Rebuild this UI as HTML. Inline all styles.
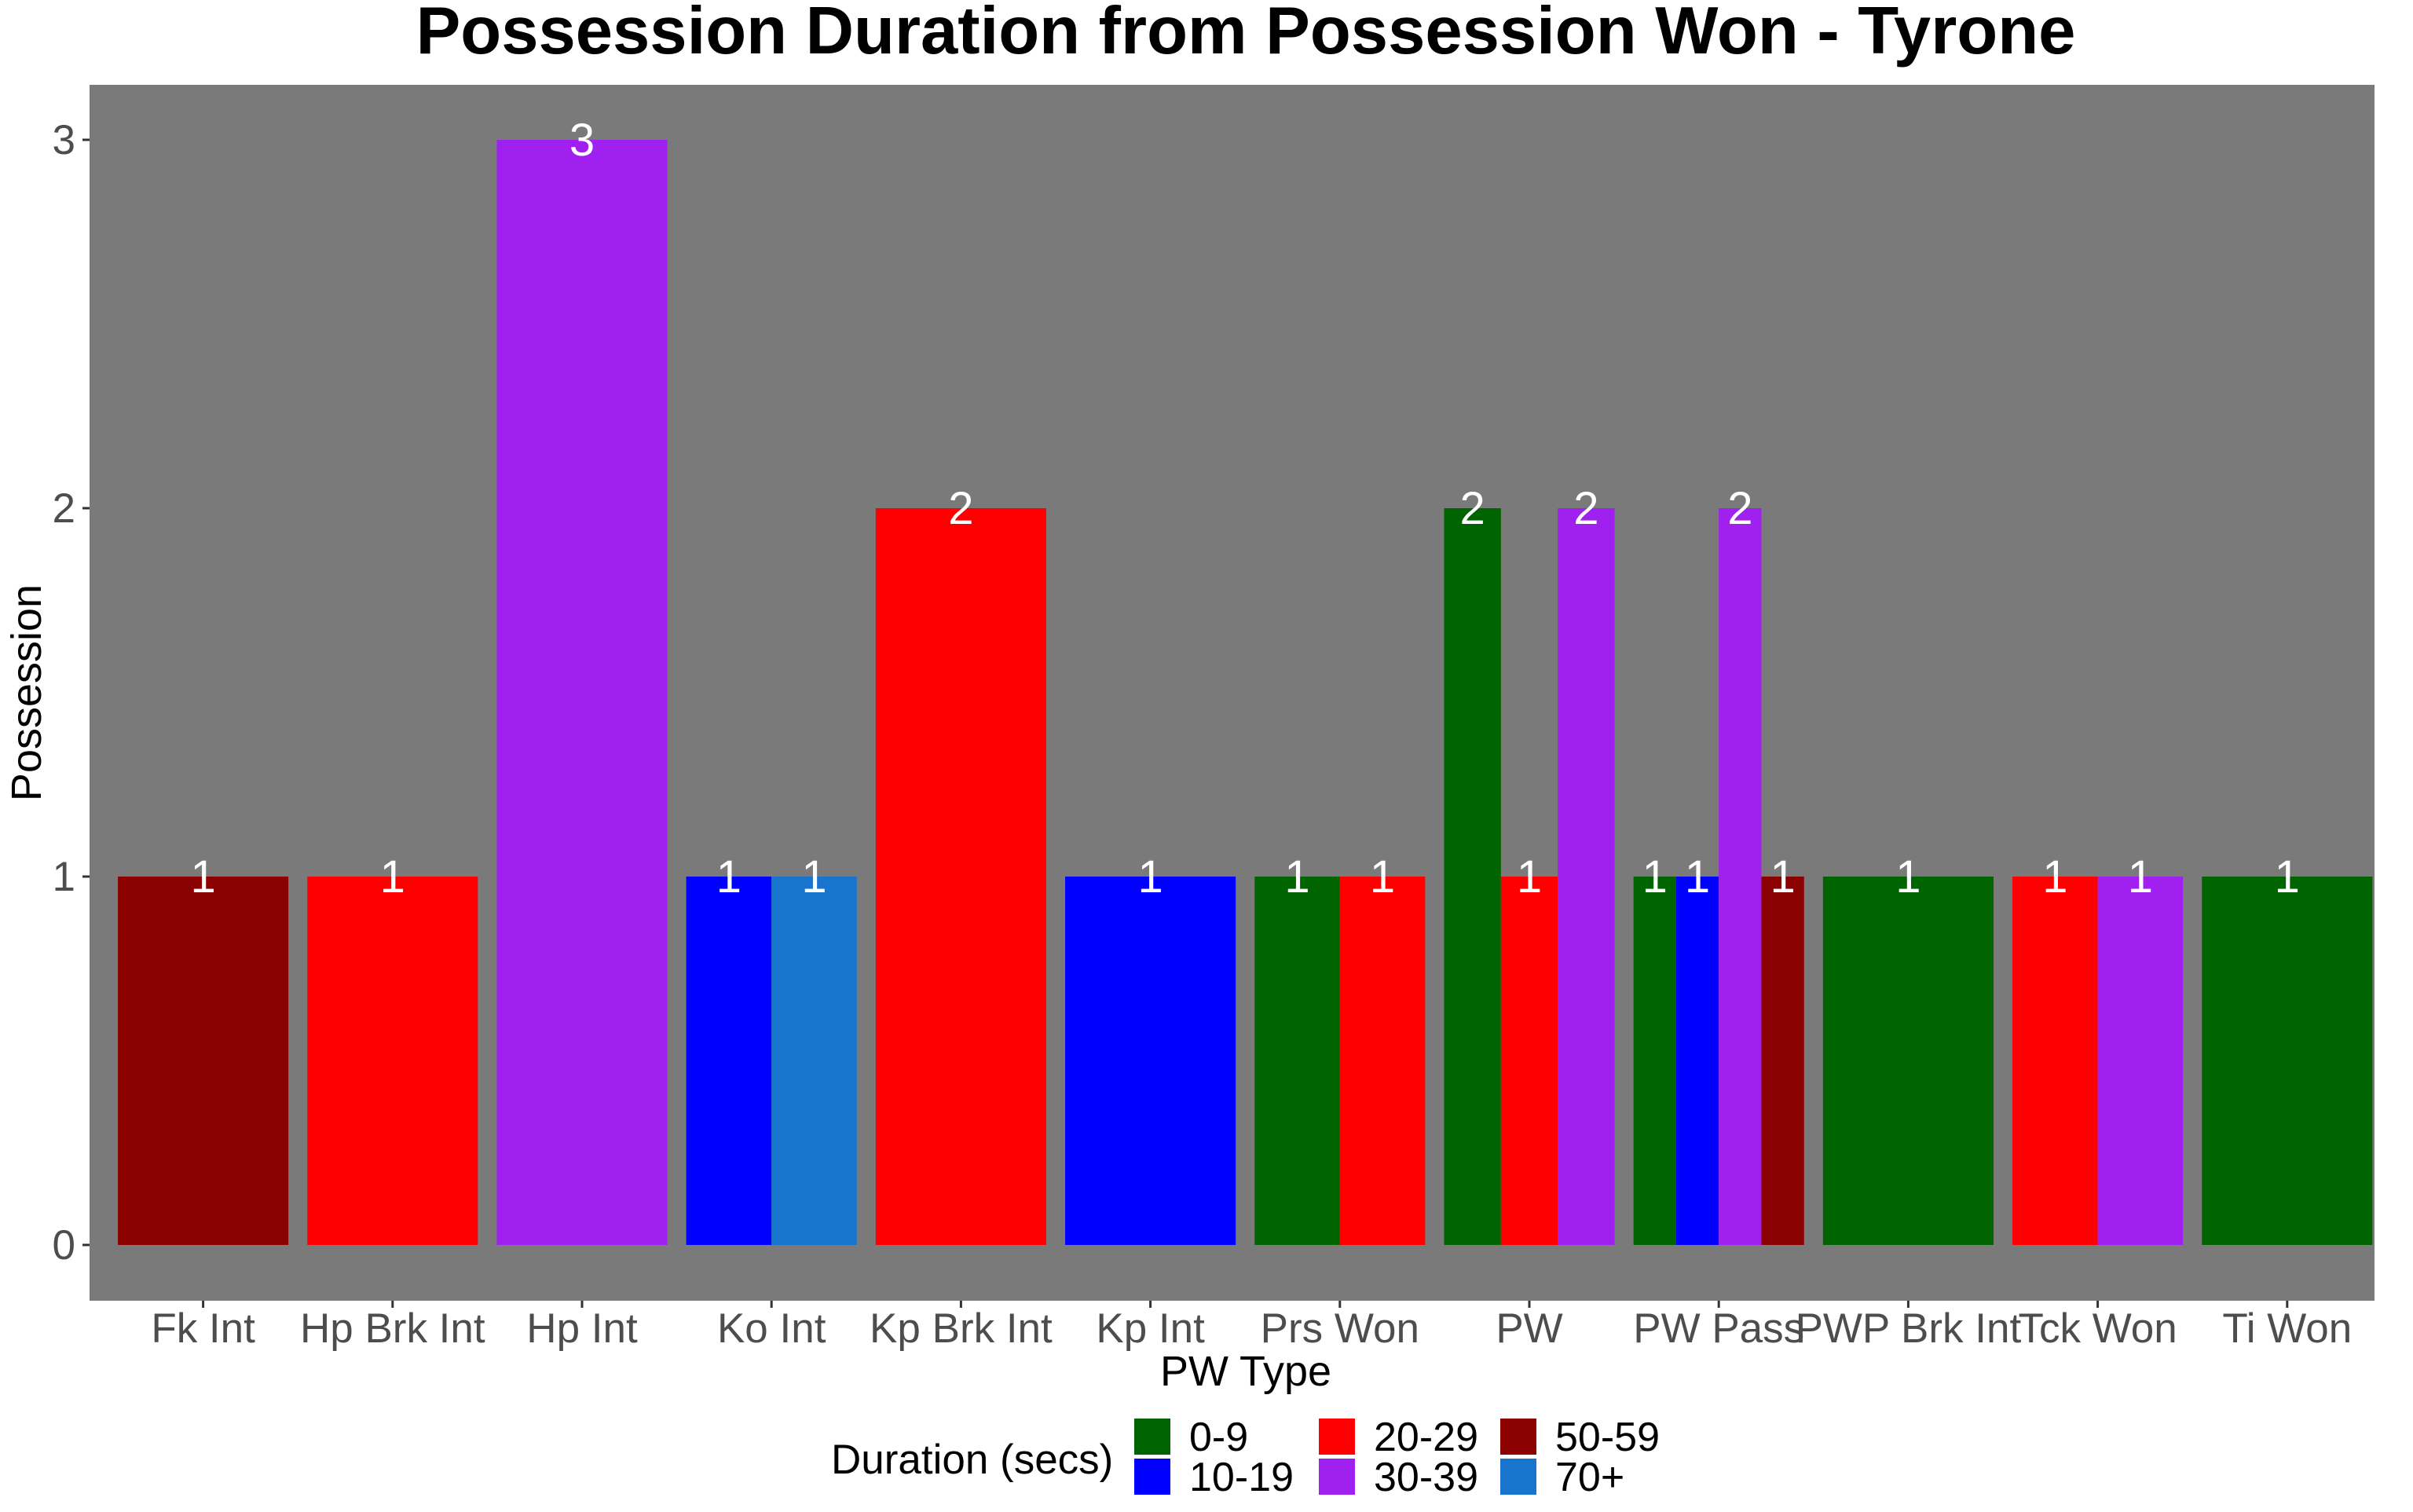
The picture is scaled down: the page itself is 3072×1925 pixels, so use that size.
<!DOCTYPE html>
<html><head><meta charset="utf-8"><style>
html,body{margin:0;padding:0;background:#fff;}
svg text{font-family:"Liberation Sans",Arial,sans-serif;}
</style></head><body>
<svg id="chart" width="3072" height="1920" viewBox="0 0 3072 1920" xmlns="http://www.w3.org/2000/svg">
<text x="1586" y="68" font-size="85" font-weight="bold" text-anchor="middle" fill="#000">Possession Duration from Possession Won - Tyrone</text>
<rect x="114" y="108" width="2909" height="1548" fill="#7a7a7a"/>
<g id="bars"></g>
<g id="labels"></g>
<g id="axes"></g>
<text x="1586" y="1764" font-size="54" text-anchor="middle" fill="#000">PW Type</text>
<text transform="translate(52,882) rotate(-90)" font-size="54" text-anchor="middle" fill="#000">Possession</text>
<g id="legend">
<text x="1058" y="1876" font-size="53" fill="#000">Duration (secs)</text>
</g>
</svg>
<script>
const categories = ["Fk Int","Hp Brk Int","Hp Int","Ko Int","Kp Brk Int","Kp Int","Prs Won","PW","PW Pass","PWP Brk Int","Tck Won","Ti Won"];
const durations = ["0-9","10-19","20-29","30-39","50-59","70+"];
const durationColors = ["#006400","#0000ff","#ff0000","#a020f0","#8b0000","#1874cd"];
const barCats = ["Fk Int","Hp Brk Int","Hp Int","Ko Int","Ko Int","Kp Brk Int","Kp Int","Prs Won","Prs Won","PW","PW","PW","PW Pass","PW Pass","PW Pass","PW Pass","PWP Brk Int","Tck Won","Tck Won","Ti Won"];
const barDurations = ["50-59","20-29","30-39","10-19","70+","20-29","10-19","0-9","20-29","0-9","20-29","30-39","0-9","10-19","30-39","50-59","0-9","20-29","30-39","0-9"];
const barValues = [1,1,3,1,1,2,1,1,1,2,1,2,1,1,2,1,1,1,1,1];
const yTicks = [0,1,2,3];

const NS="http://www.w3.org/2000/svg";
const step=241.2, x0=258.6, bw=step*0.9;
function xPos(c){return x0+categories.indexOf(c)*step;}
function yPos(v){return 1585-v*469;}
function mk(t,a,p){const e=document.createElementNS(NS,t);for(const k in a)e.setAttribute(k,a[k]);p.appendChild(e);return e;}
const gb=document.getElementById('bars'), gl=document.getElementById('labels'), ga=document.getElementById('axes'), lg=document.getElementById('legend');
categories.forEach(c=>{
  const idx=[];barCats.forEach((b,i)=>{if(b===c)idx.push(i);});
  const n=idx.length, w=bw/n;
  idx.forEach((i,k)=>{
    const xl=xPos(c)-bw/2+k*w, v=barValues[i];
    const r=mk('rect',{x:xl,y:yPos(v),width:w,height:yPos(0)-yPos(v),fill:durationColors[durations.indexOf(barDurations[i])]},gb);
    
    
    const t=mk('text',{x:xl+w/2,y:yPos(v)+20,'font-size':'58','text-anchor':'middle',fill:'#fff'},gl);
    t.textContent=v;
    
    
  });
  mk('line',{x1:xPos(c),x2:xPos(c),y1:1656,y2:1665,stroke:'#333','stroke-width':3},ga);
  const t=mk('text',{x:xPos(c),y:1709,'font-size':'53','text-anchor':'middle',fill:'#4d4d4d'},ga);
  t.textContent=c;
  
  
});
yTicks.forEach(v=>{
  mk('line',{x1:105,x2:114,y1:yPos(v),y2:yPos(v),stroke:'#333','stroke-width':3},ga);
  const t=mk('text',{x:96,y:yPos(v)+18,'font-size':'53','text-anchor':'end',fill:'#4d4d4d'},ga);
  t.textContent=v;
  
  
});
const lx=[1444,1444,1679,1679,1910,1910], ly=[1806,1857,1806,1857,1806,1857];
durations.forEach((d,i)=>{
  const r=mk('rect',{x:lx[i],y:ly[i],width:46,height:46,fill:durationColors[i]},lg);
  
  
  const t=mk('text',{x:lx[i]+70,y:ly[i]+41,'font-size':'52',fill:'#000'},lg);
  t.textContent=d;
  
  
});
</script>
</body></html>
